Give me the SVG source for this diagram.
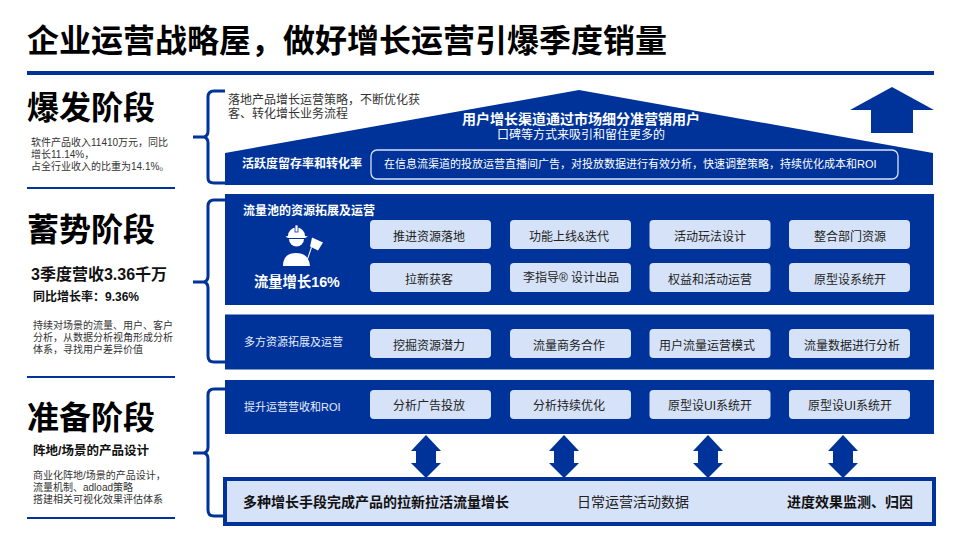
<svg xmlns="http://www.w3.org/2000/svg" width="960" height="540" viewBox="0 0 960 540">
<style>
text{font-family:"Liberation Sans","Noto Sans CJK SC",sans-serif;}
.b{fill:#003399}
.rule{stroke:#003399;stroke-width:2;fill:none}
.brace{stroke:#003399;stroke-width:3;fill:none}
.pill{fill:#D6E2F8}
.pt{font-size:12px;fill:#222;text-anchor:middle}
.h{font-size:32px;font-weight:700;fill:#000}
.s{font-size:10px;fill:#333}
.sb{font-weight:700;fill:#111}
.w{fill:#fff}
</style>
<rect width="960" height="540" fill="#fff"/>
<g id="title"><text x="27" y="52" font-size="32" font-weight="700" fill="#000">企业运营战略屋，做好增长运营引爆季度销量</text><rect x="27" y="71" width="907" height="4" class="b"/></g>
<g id="stage-1"><text x="27" y="119" class="h">爆发阶段</text>
<text class="s" x="31" y="146">软件产品收入11410万元，同比</text><text class="s" x="31" y="158">增长11.14%，</text><text class="s" x="31" y="170">占全行业收入的比重为14.1%。</text>
<line x1="27" y1="188" x2="175" y2="188" class="rule"/></g>
<g id="stage-2"><text x="27" y="241" class="h">蓄势阶段</text>
<text x="31" y="280" font-size="16" class="sb">3季度营收3.36千万</text>
<text x="33" y="301" font-size="12" class="sb">同比增长率：9.36%</text>
<text class="s" x="33" y="329">持续对场景的流量、用户、客户</text><text class="s" x="33" y="341">分析，从数据分析视角形成分析</text><text class="s" x="33" y="353">体系，寻找用户差异价值</text>
<line x1="27" y1="377" x2="175" y2="377" class="rule"/></g>
<g id="stage-3"><text x="27" y="429" class="h">准备阶段</text>
<text x="33" y="455" font-size="12.500" class="sb">阵地/场景的产品设计</text>
<text class="s" x="33" y="479">商业化阵地/场景的产品设计，</text><text class="s" x="33" y="491">流量机制、adload策略</text><text class="s" x="33" y="503">搭建相关可视化效果评估体系</text>
<line x1="27" y1="518" x2="175" y2="518" class="rule"/></g>
<g id="connectors">
<path class="brace" d="M225 91H214Q208 91 208 97V131Q208 136 204 137H193H204Q208 138 208 143V178Q208 183 214 183H225"/>
<path class="brace" d="M225 200H214Q208 200 208 206V276Q208 281 204 282H193H204Q208 283 208 288V356Q208 362 214 362H225"/>
<path class="brace" d="M225 389H214Q208 389 208 395V447Q208 452 204 453H193H204Q208 454 208 459V510Q208 516 214 516H225"/>
<polygon class="b" points="426,435 441,451 436,451 436,463 441,463 426,478 411,463 416,463 416,451 411,451"/>
<polygon class="b" points="564,435 579,451 574,451 574,463 579,463 564,478 549,463 554,463 554,451 549,451"/>
<polygon class="b" points="708,435 723,451 718,451 718,463 723,463 708,478 693,463 698,463 698,451 693,451"/>
<polygon class="b" points="843,435 858,451 853,451 853,463 858,463 843,478 828,463 833,463 833,451 828,451"/>
</g>
<g id="roof"><polygon class="b" points="225,153 579,90 933,153 933,185 225,185"/>
<text x="581" y="124" font-size="14" font-weight="700" class="w" text-anchor="middle">用户增长渠道通过市场细分准营销用户</text>
<text x="581" y="139" font-size="12" class="w" text-anchor="middle">口碑等方式来吸引和留住更多的</text>
<text x="242" y="168" font-size="12" font-weight="700" class="w">活跃度留存率和转化率</text>
<rect x="371" y="150" width="527" height="29" rx="6" fill="none" stroke="#D6E2F8" stroke-width="1.3"/>
<text x="384" y="168" font-size="11" class="w">在信息流渠道的投放运营直播间广告，对投放数据进行有效分析，快速调整策略，持续优化成本和ROI</text></g>
<g id="roof-note"><text x="228" y="104" font-size="12" fill="#333">落地产品增长运营策略，不断优化获</text><text x="228" y="118" font-size="12" fill="#333">客、转化增长业务流程</text></g>
<g id="up-arrow"><polygon class="b" points="892,87 934,110 913,110 913,133 871,133 871,110 850,110"/></g>
<g id="panel-pool"><rect x="225" y="194" width="709" height="111" class="b"/>
<text x="243" y="215" font-size="12" font-weight="700" class="w">流量池的资源拓展及运营</text>
<g class="w"><path d="M288 236a8.500 8.500 0 0 1 17 0l3 .5-3 1.500h-17l-2.500-1.500z"/><rect x="295" y="225" width="3" height="7" stroke="#003399" stroke-width=".8"/><path d="M289 239h15a7.500 7.500 0 0 1-15 0z"/><path d="M283 266q0-13 13-13q13 0 14 13z"/><path d="M305 265l6-18 1 .4-6 17.600z"/><path d="M312 237.500l11 5-5 8-8-4z"/></g>
<text x="254" y="287" font-size="14.300" font-weight="700" class="w">流量增长16%</text></g>
<g id="panel-pool-pills">
<rect class="pill" x="370" y="220" width="121" height="29" rx="4"/><text class="pt" x="429" y="241">推进资源落地</text>
<rect class="pill" x="510" y="220" width="121" height="29" rx="4"/><text class="pt" x="569" y="241">功能上线&amp;迭代</text>
<rect class="pill" x="649.500" y="220" width="121" height="29" rx="4"/><text class="pt" x="710" y="241">活动玩法设计</text>
<rect class="pill" x="789" y="220" width="121" height="29" rx="4"/><text class="pt" x="850" y="241">整合部门资源</text>
<rect class="pill" x="370" y="263" width="121" height="29" rx="4"/><text class="pt" x="429" y="284">拉新获客</text>
<rect class="pill" x="510" y="263" width="121" height="29" rx="4"/><text class="pt" x="571" y="282">李指导® 设计出品</text>
<rect class="pill" x="649.500" y="263" width="121" height="29" rx="4"/><text class="pt" x="710" y="284">权益和活动运营</text>
<rect class="pill" x="789" y="263" width="121" height="29" rx="4"/><text class="pt" x="850" y="284">原型设系统开</text></g>
<g id="panel-sources"><rect x="225" y="314.500" width="709" height="55" class="b"/>
<text x="244" y="346" font-size="11" fill="#e6edfb">多方资源拓展及运营</text>
<rect class="pill" x="370" y="329" width="121" height="29" rx="4"/><text class="pt" x="429" y="350">挖掘资源潜力</text>
<rect class="pill" x="510" y="329" width="121" height="29" rx="4"/><text class="pt" x="569" y="350">流量商务合作</text>
<rect class="pill" x="649.500" y="329" width="121" height="29" rx="4"/><text class="pt" x="707" y="350">用户流量运营模式</text>
<rect class="pill" x="789" y="329" width="121" height="29" rx="4"/><text class="pt" x="852" y="350">流量数据进行分析</text></g>
<g id="panel-roi"><rect x="225" y="380" width="709" height="54" class="b"/>
<text x="244" y="411" font-size="11" fill="#e6edfb">提升运营营收和ROI</text>
<rect class="pill" x="370" y="390" width="121" height="29" rx="4"/><text class="pt" x="429" y="410">分析广告投放</text>
<rect class="pill" x="510" y="390" width="121" height="29" rx="4"/><text class="pt" x="569" y="410">分析持续优化</text>
<rect class="pill" x="649.500" y="390" width="121" height="29" rx="4"/><text class="pt" x="710" y="410">原型设UI系统开</text>
<rect class="pill" x="789" y="390" width="121" height="29" rx="4"/><text class="pt" x="850" y="410">原型设UI系统开</text></g>
<g id="base"><rect x="225" y="479" width="709" height="45" fill="#D6E2F8" stroke="#003399" stroke-width="4"/>
<text x="243" y="507" font-size="14" font-weight="700" fill="#111">多种增长手段完成产品的拉新拉活流量增长</text>
<text x="633" y="507" font-size="14" fill="#222" text-anchor="middle">日常运营活动数据</text>
<text x="850" y="507" font-size="14" font-weight="700" fill="#111" text-anchor="middle">进度效果监测、归因</text></g>
</svg>
